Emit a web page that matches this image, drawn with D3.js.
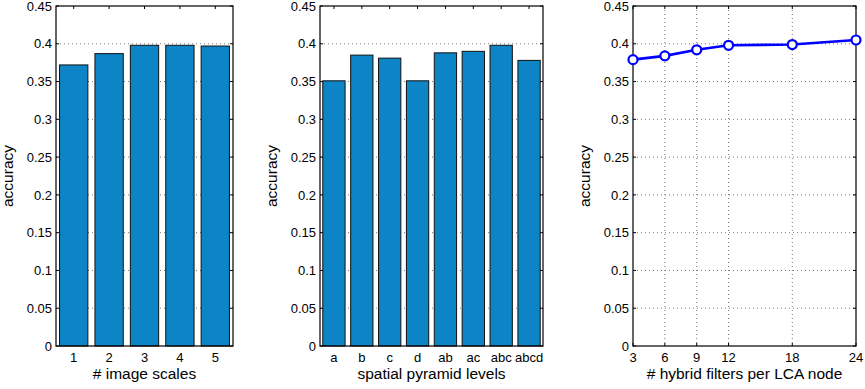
<!DOCTYPE html>
<html><head><meta charset="utf-8">
<script src="https://cdn.jsdelivr.net/npm/d3@7"></script>
<style>body{margin:0;background:#fff}svg{display:block}text{font-family:"Liberation Sans",Arial,sans-serif;fill:#000}</style>
</head><body><svg id="c" width="865" height="389"></svg>
<script>
const yTicks = [0,0.05,0.1,0.15,0.2,0.25,0.3,0.35,0.4,0.45];
const scaleCats = ["1","2","3","4","5"];
const scaleVals = [0.372,0.387,0.398,0.398,0.397];
const pyrCats = ["a","b","c","d","ab","ac","abc","abcd"];
const pyrVals = [0.351,0.385,0.381,0.351,0.388,0.390,0.398,0.378];
const filterX = [3,6,9,12,18,24];
const filterVals = [0.379,0.384,0.392,0.398,0.399,0.405];
const xLabels = ["# image scales","spatial pyramid levels","# hybrid filters per LCA node"];

const svg = d3.select("#c");
const yTop = 6, yBot = 346;
const y = d3.scaleLinear().domain([0,0.45]).range([yBot,yTop]);
const barColor = "#0c84c6";
const gridColor = "#555";
const tickFont = "13px", labelFont = "15.5px";

function frame(g, x0, x1, label, xLabel) {
  const ya = g.append("g").attr("transform",`translate(${x0},0)`)
    .call(d3.axisLeft(y).tickValues(yTicks).tickSize(0).tickPadding(4).tickFormat(d=>d===0?"0":String(+d.toFixed(2))));
  ya.select(".domain").remove();
  ya.selectAll("text").style("font-size",tickFont).style("font-family",'"Liberation Sans",Arial,sans-serif').attr("fill","#000");
  g.append("text").attr("transform",`translate(${x0-43},${(yTop+yBot)/2}) rotate(-90)`)
    .attr("text-anchor","middle").style("font-size",labelFont).text(label);
  g.append("text").attr("x",(x0+x1)/2).attr("y",379).attr("text-anchor","middle").style("font-size",labelFont).text(xLabel);
}
function hgrid(g, x0, x1) {
  g.selectAll(".hg").data(yTicks.filter(d=>d>0&&d<0.45)).join("line")
    .attr("x1",x0).attr("x2",x1).attr("y1",d=>y(d)).attr("y2",d=>y(d))
    .attr("stroke",gridColor).attr("stroke-width",0.8).attr("stroke-dasharray","1,3");
}
function box(g, x0, x1) {
  g.append("rect").attr("x",x0).attr("y",yTop).attr("width",x1-x0).attr("height",yBot-yTop)
    .attr("fill","none").attr("stroke","#000").attr("stroke-width",1.2);
  yTicks.forEach(d=>{
    g.append("line").attr("x1",x0).attr("x2",x0+3).attr("y1",y(d)).attr("y2",y(d)).attr("stroke","#000");
    g.append("line").attr("x1",x1).attr("x2",x1-3).attr("y1",y(d)).attr("y2",y(d)).attr("stroke","#000");
  });
}
function barPanel(x0, x1, cats, vals, xLabel) {
  const g = svg.append("g");
  const x = d3.scaleLinear().domain([0.5, cats.length+0.5]).range([x0,x1]);
  hgrid(g, x0, x1);
  const bw = (x(1.4)-x(0.6));
  g.selectAll(".bar").data(vals).join("rect")
    .attr("x",(d,i)=>x(i+1)-bw/2).attr("width",bw)
    .attr("y",d=>y(d)).attr("height",d=>y(0)-y(d))
    .attr("fill",barColor).attr("stroke","#111").attr("stroke-width",1);
  box(g, x0, x1);
  cats.forEach((c,i)=>{
    g.append("line").attr("x1",x(i+1)).attr("x2",x(i+1)).attr("y1",yTop).attr("y2",yTop+3).attr("stroke","#000");
    g.append("text").attr("x",x(i+1)).attr("y",362).attr("text-anchor","middle").style("font-size",tickFont).text(c);
  });
  frame(g, x0, x1, "accuracy", xLabel);
}
barPanel(56, 233, scaleCats, scaleVals, xLabels[0]);
barPanel(320, 543, pyrCats, pyrVals, xLabels[1]);

(function(){
  const x0=633, x1=856;
  const g = svg.append("g");
  const x = d3.scaleLinear().domain([3,24]).range([x0,x1]);
  hgrid(g, x0, x1);
  g.selectAll(".vg").data(filterX.filter(d=>d>3&&d<24)).join("line")
    .attr("x1",d=>x(d)).attr("x2",d=>x(d)).attr("y1",yTop).attr("y2",yBot)
    .attr("stroke",gridColor).attr("stroke-width",0.8).attr("stroke-dasharray","1,3");
  box(g, x0, x1);
  filterX.forEach(v=>{
    g.append("line").attr("x1",x(v)).attr("x2",x(v)).attr("y1",yTop).attr("y2",yTop+3).attr("stroke","#000");
    g.append("line").attr("x1",x(v)).attr("x2",x(v)).attr("y1",yBot).attr("y2",yBot-3).attr("stroke","#000");
    g.append("text").attr("x",x(v)).attr("y",362).attr("text-anchor","middle").style("font-size",tickFont).text(v);
  });
  const line = d3.line().x((d,i)=>x(filterX[i])).y(d=>y(d));
  g.append("path").datum(filterVals).attr("d",line).attr("fill","none").attr("stroke","#0000ff").attr("stroke-width",2.6);
  g.selectAll(".pt").data(filterVals).join("circle")
    .attr("cx",(d,i)=>x(filterX[i])).attr("cy",d=>y(d)).attr("r",4.5)
    .attr("fill","#fff").attr("stroke","#0000ff").attr("stroke-width",2.2);
  frame(g, x0, x1, "accuracy", xLabels[2]);
})();
</script></body></html>
